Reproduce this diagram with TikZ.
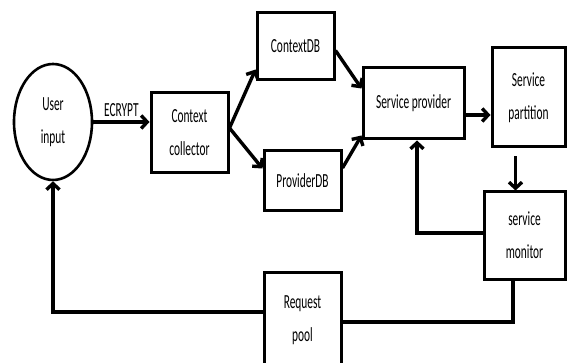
\documentclass[tikz,border=0pt]{standalone}
\usepackage{fontspec}
\setmainfont{Carlito}[FakeStretch=0.57]
\usetikzlibrary{arrows.meta,calc,shapes.geometric}

\begin{document}
\begin{tikzpicture}[x=1pt,y=-1pt,
  every node/.style={font=\fontsize{20}{33}\selectfont},
  block/.style={rectangle,draw,line width=3pt,fill=white,align=center,inner sep=2pt},
  user/.style={ellipse,draw,line width=2.6pt,align=center,minimum width=78pt,
               minimum height=116pt,inner sep=0pt},
  arrow/.style={-{Straight Barb[length=6pt,width=13pt]},line width=3.4pt},
  wire/.style={line width=3.4pt},
]
\fill[white] (0,0) rectangle (567,363);
\useasboundingbox (0,0) rectangle (567,363);
\clip (0,0) rectangle (567,363);

% Start
\node[user] (user) at (53,122) {User\\input};

% Blocks
\node[block,minimum width=77pt,minimum height=80pt]  (coll)   at (189.5,133)  {Context\\collector};
\node[block,minimum width=77pt,minimum height=67pt]  (ctxdb)  at (295.5,46.5)  {ContextDB};
\node[block,minimum width=77pt,minimum height=60pt]  (provdb) at (302.5,181)  {ProviderDB};
\node[block,minimum width=101pt,minimum height=71pt] (prov)   at (413.5,103.5) {Service provider};
\node[block,minimum width=73pt,minimum height=99pt]  (part)   at (528.5,97.5) {Service\\partition};
\node[block,minimum width=81pt,minimum height=87pt]  (mon)    at (524.5,235.5) {service\\monitor};
\node[block,minimum width=77pt,minimum height=96pt]  (pool)   at (302.5,320)  {Request\\pool};

% Forward arrows
\draw[arrow] (user.east) -- (user.east -| coll.west) node[midway,above] {ECRYPT};
\coordinate (fork) at ($(coll.east)+(0,-5)$);
\draw[arrow] (fork) -- ($(ctxdb.south west)+(0,-12)$);
\draw[arrow] (fork) -- ($(provdb.north west)+(0,19)$);
\draw[arrow] ($(ctxdb.east)+(0,4)$) -- ($(prov.west)+(0,-15)$);
\draw[arrow] ($(provdb.east)+(0,-13)$) -- ($(prov.south west)+(0,-5)$);
\draw[arrow] ($(prov.east)+(0,11.5)$) -- ($(part.west)+(0,17.5)$);
\draw[arrow] ($(part.south)+(-13,8)$) -- ($(mon.north)+(-9,0)$);

% Feedback loops
\draw[arrow] ($(mon.west)+(0,-2.5)$) -| ($(prov.south)+(3.5,0)$);
\draw[wire] ($(mon.south)+(-11.5,0)$) |- ($(pool.east)+(0,2)$);
\draw[arrow] ($(pool.west)+(0,-8)$) -| (user.south);

\end{tikzpicture}
\end{document}
